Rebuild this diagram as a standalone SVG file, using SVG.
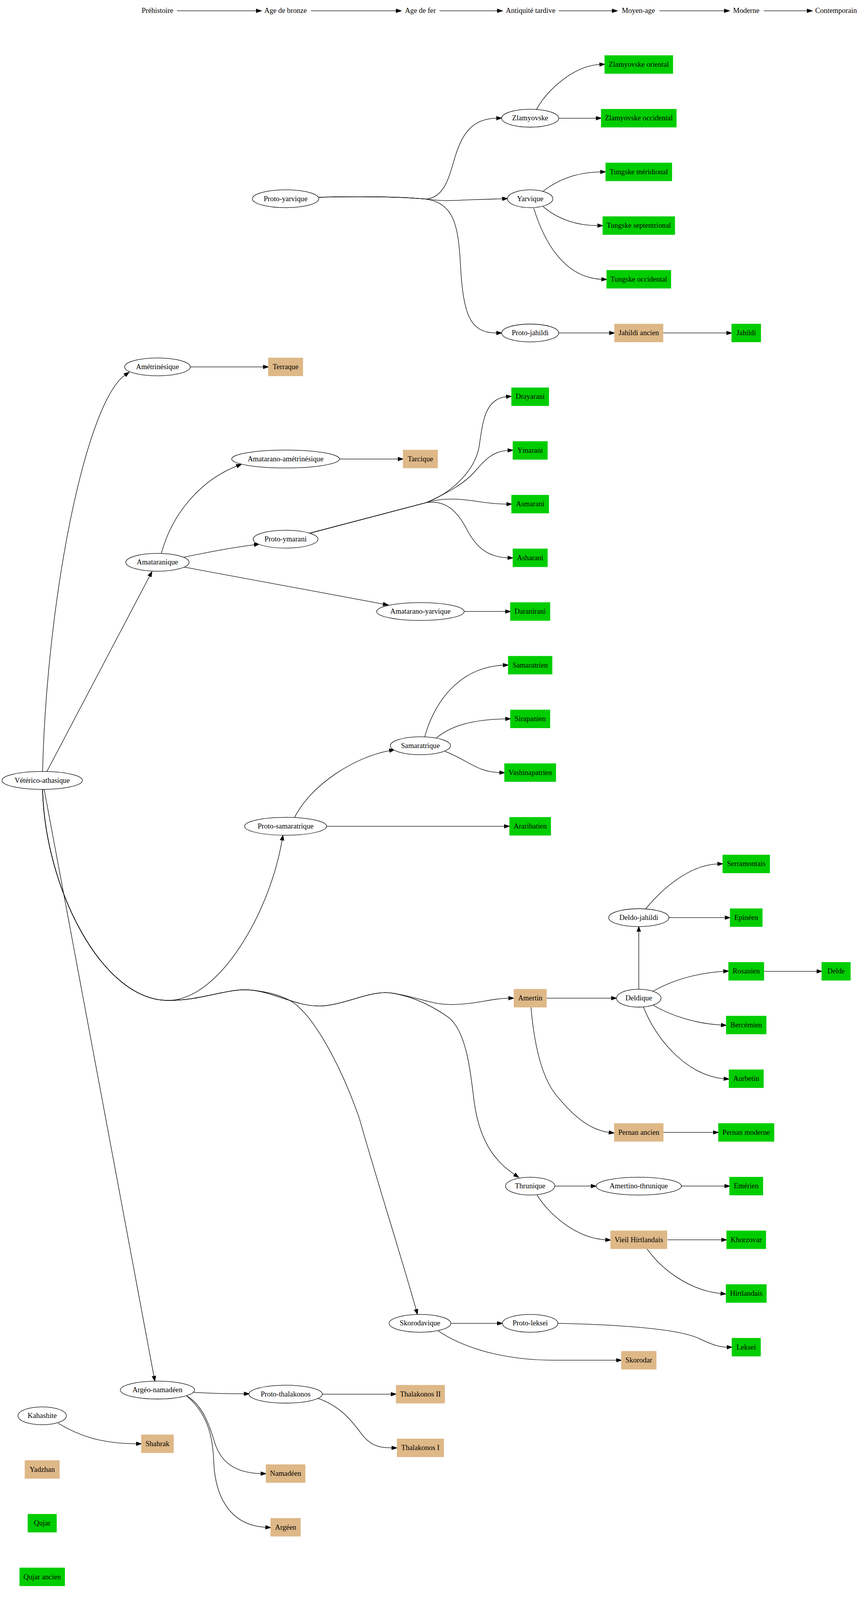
<svg xmlns="http://www.w3.org/2000/svg" width="2214" height="4291" viewBox="0 0 2214 4291" preserveAspectRatio="none">
<style>
svg{width:100vw;height:100vh}
text{font-family:"Liberation Serif","Times New Roman",serif;font-size:18.67px;text-anchor:middle;fill:#000}
.n ellipse{fill:#fff;stroke:#000;stroke-width:1.33}
.g rect{fill:#00cd00;stroke:#00cd00;stroke-width:1.33}
.t rect{fill:#deb887;stroke:#deb887;stroke-width:1.33}
#edges path{fill:none;stroke:#000;stroke-width:1.33;marker-end:url(#a)}
</style>
<defs>
<marker id="a" markerUnits="userSpaceOnUse" markerWidth="14" markerHeight="10" viewBox="0 0 14 10" refX="0" refY="5" orient="auto" overflow="visible">
<path d="M0,0.3 L13.3,5 L0,9.7 z" fill="#000" stroke="#000" stroke-width="1.33"/>
</marker>
</defs>
<rect width="2214" height="4291" fill="#fff"/>
<g id="edges">
<path d="M453,29 L656,29"/>
<path d="M796,29 L1014,29"/>
<path d="M1125,29 L1273,29"/>
<path d="M1430,29 L1567,29"/>
<path d="M1688,29 L1854,29"/>
<path d="M1955,29 L2066,29"/>
<path d="M816,529 C960,525 1050,530 1090,534 C1140,530 1150,470 1165,420 C1185,350 1215,318 1271,317"/>
<path d="M816,529 C960,525 1050,530 1090,534 C1130,540 1160,538 1200,536 L1286,533"/>
<path d="M816,529 C960,525 1050,530 1090,534 C1160,545 1172,600 1178,700 C1185,840 1200,893 1271,893"/>
<path d="M1373,294 C1400,240 1470,176 1535,173"/>
<path d="M1430,317 L1526,317"/>
<path d="M1390,513 C1430,480 1480,462 1537,461"/>
<path d="M1390,554 C1430,590 1480,605 1530,605"/>
<path d="M1366,558 C1390,640 1440,745 1540,749"/>
<path d="M1430,893 L1560,893"/>
<path d="M1697,893 L1860,893"/>
<path d="M109,2069 C120,1600 220,1080 320,1006"/>
<path d="M487,984 L674,984"/>
<path d="M120,2069 L383,1545"/>
<path d="M413,1484 C440,1380 510,1290 606,1250"/>
<path d="M869,1231 L1019,1231"/>
<path d="M472,1494 C560,1475 600,1468 651,1461"/>
<path d="M792,1430 L1091,1348 C1160,1320 1215,1260 1226,1200 C1235,1140 1238,1070 1296,1064"/>
<path d="M792,1430 L1091,1348 C1150,1320 1190,1295 1215,1265 C1240,1235 1260,1210 1300,1208"/>
<path d="M792,1430 L1091,1348 C1130,1335 1170,1337 1210,1343 C1240,1348 1270,1352 1297,1352"/>
<path d="M792,1430 L1091,1348 C1140,1340 1170,1370 1195,1420 C1220,1470 1250,1494 1300,1496"/>
<path d="M472,1521 L981,1620"/>
<path d="M1188,1640 L1294,1640"/>
<path d="M109,2117 C115,2380 260,2683 430,2683 C560,2683 690,2450 722,2253"/>
<path d="M754,2192 C800,2100 910,2030 997,2013"/>
<path d="M1087,1976 C1110,1890 1170,1790 1288,1784"/>
<path d="M1117,1979 C1150,1950 1200,1930 1294,1928"/>
<path d="M1139,2015 C1200,2040 1220,2070 1279,2072"/>
<path d="M836,2216 L1291,2216"/>
<path d="M109,2117 C115,2380 260,2683 430,2683 C520,2683 580,2650 640,2655 C700,2660 760,2700 820,2698 C880,2696 950,2655 1000,2663 C1060,2670 1100,2695 1160,2694 C1220,2693 1260,2677 1302,2677"/>
<path d="M109,2117 C115,2380 260,2683 430,2683 C520,2683 580,2650 640,2655 C690,2660 720,2670 745,2685 C800,2720 870,2850 920,3000 C960,3150 1030,3380 1065,3512"/>
<path d="M109,2117 C115,2380 260,2683 430,2683 C520,2683 580,2650 640,2655 C700,2660 760,2700 820,2698 C880,2696 950,2655 1000,2663 C1060,2672 1110,2700 1150,2730 C1195,2770 1205,2880 1213,2950 C1225,3050 1260,3110 1317,3150"/>
<path d="M113,2117 L394,3691"/>
<path d="M1399,2677 L1565,2677"/>
<path d="M1359,2701 C1368,2810 1390,2900 1430,2945 C1470,2995 1510,3030 1559,3037"/>
<path d="M1698,3037 L1826,3037"/>
<path d="M1635,2653 L1635,2498"/>
<path d="M1653,2437 C1690,2390 1760,2320 1837,2317"/>
<path d="M1712,2461 L1856,2461"/>
<path d="M1672,2658 C1720,2630 1780,2610 1852,2605"/>
<path d="M1955,2605 L2091,2605"/>
<path d="M1672,2696 C1720,2725 1780,2745 1846,2749"/>
<path d="M1647,2701 C1680,2790 1760,2885 1853,2893"/>
<path d="M1420,3181 L1513,3181"/>
<path d="M1744,3181 L1855,3181"/>
<path d="M1375,3205 C1400,3250 1470,3320 1550,3325"/>
<path d="M1708,3325 L1847,3325"/>
<path d="M1656,3349 C1690,3400 1760,3460 1845,3469"/>
<path d="M1154,3549 L1273,3549"/>
<path d="M1428,3549 C1600,3553 1740,3565 1790,3590 C1820,3605 1840,3613 1861,3613"/>
<path d="M1120,3568 C1170,3605 1270,3648 1420,3648 L1578,3648"/>
<path d="M495,3734 C540,3737 580,3738 625,3738"/>
<path d="M825,3739 L1001,3739"/>
<path d="M813,3750 C870,3770 900,3810 925,3845 C950,3880 975,3883 1003,3883"/>
<path d="M477,3743 C520,3770 535,3820 550,3870 C565,3920 600,3950 668,3952"/>
<path d="M478,3744 C530,3790 545,3850 547,3920 C550,4000 580,4090 680,4096"/>
<path d="M149,3817 C200,3850 260,3872 349,3872"/>
</g>
<g id="timeline">
<text x="403" y="35">Préhistoire</text>
<text x="731" y="35">Age de bronze</text>
<text x="1076" y="35">Age de fer</text>
<text x="1358" y="35">Antiquité tardive</text>
<text x="1634" y="35">Moyen-age</text>
<text x="1910" y="35">Moderne</text>
<text x="2140" y="35">Contemporain</text>
</g>
<g id="n-veterico" class="n"><ellipse cx="108" cy="2093" rx="103" ry="24"/><text x="108" y="2099">Vétérico-athasique</text></g>
<g id="n-kahashite" class="n"><ellipse cx="108" cy="3797" rx="62" ry="24"/><text x="108" y="3803">Kahashite</text></g>
<g id="n-yadzhan" class="t"><rect x="64" y="3917" width="88" height="48"/><text x="108" y="3947">Yadzhan</text></g>
<g id="n-qujar" class="g"><rect x="71.5" y="4061" width="73" height="48"/><text x="108" y="4091">Qujar</text></g>
<g id="n-qujar-ancien" class="g"><rect x="50.5" y="4205" width="115" height="48"/><text x="108" y="4235">Qujar ancien</text></g>
<g id="n-ametrinesique" class="n"><ellipse cx="403" cy="984" rx="84" ry="24"/><text x="403" y="990">Amétrinésique</text></g>
<g id="n-amataranique" class="n"><ellipse cx="403" cy="1508" rx="81" ry="24"/><text x="403" y="1514">Amataranique</text></g>
<g id="n-argeo-namadeen" class="n"><ellipse cx="403" cy="3728" rx="95" ry="24"/><text x="403" y="3734">Argéo-namadéen</text></g>
<g id="n-shahrak" class="t"><rect x="362" y="3848" width="82" height="48"/><text x="403" y="3878">Shahrak</text></g>
<g id="n-proto-yarvique" class="n"><ellipse cx="731" cy="533" rx="85" ry="24"/><text x="731" y="539">Proto-yarvique</text></g>
<g id="n-terraque" class="t"><rect x="687" y="960" width="88" height="48"/><text x="731" y="990">Terraque</text></g>
<g id="n-amatarano-ametrinesique" class="n"><ellipse cx="731" cy="1231" rx="138" ry="24"/><text x="731" y="1237">Amatarano-amétrinésique</text></g>
<g id="n-proto-ymarani" class="n"><ellipse cx="731" cy="1446" rx="83" ry="24"/><text x="731" y="1452">Proto-ymarani</text></g>
<g id="n-proto-samaratrique" class="n"><ellipse cx="731" cy="2216" rx="105" ry="24"/><text x="731" y="2222">Proto-samaratrique</text></g>
<g id="n-proto-thalakonos" class="n"><ellipse cx="731" cy="3739" rx="94" ry="24"/><text x="731" y="3745">Proto-thalakonos</text></g>
<g id="n-namadeen" class="t"><rect x="681" y="3928" width="100" height="48"/><text x="731" y="3958">Namadéen</text></g>
<g id="n-argeen" class="t"><rect x="693" y="4072" width="76" height="48"/><text x="731" y="4102">Argéen</text></g>
<g id="n-tarcique" class="t"><rect x="1032" y="1207" width="88" height="48"/><text x="1076" y="1237">Tarcique</text></g>
<g id="n-amatarano-yarvique" class="n"><ellipse cx="1076" cy="1640" rx="112" ry="24"/><text x="1076" y="1646">Amatarano-yarvique</text></g>
<g id="n-samaratrique" class="n"><ellipse cx="1076" cy="2000" rx="77" ry="24"/><text x="1076" y="2006">Samaratrique</text></g>
<g id="n-skorodavique" class="n"><ellipse cx="1075" cy="3549" rx="79" ry="24"/><text x="1075" y="3555">Skorodavique</text></g>
<g id="n-thalakonos-2" class="t"><rect x="1014" y="3715" width="124" height="48"/><text x="1076" y="3745">Thalakonos II</text></g>
<g id="n-thalakonos-1" class="t"><rect x="1016.5" y="3859" width="119" height="48"/><text x="1076" y="3889">Thalakonos I</text></g>
<g id="n-zlamyovske" class="n"><ellipse cx="1357" cy="317" rx="73" ry="24"/><text x="1357" y="323">Zlamyovske</text></g>
<g id="n-yarvique" class="n"><ellipse cx="1357" cy="533" rx="58" ry="24"/><text x="1357" y="539">Yarvique</text></g>
<g id="n-proto-jahildi" class="n"><ellipse cx="1357" cy="893" rx="73" ry="24"/><text x="1357" y="899">Proto-jahildi</text></g>
<g id="n-drayarani" class="g"><rect x="1309.5" y="1040" width="95" height="48"/><text x="1357" y="1070">Drayarani</text></g>
<g id="n-ymarani" class="g"><rect x="1313" y="1184" width="88" height="48"/><text x="1357" y="1214">Ymarani</text></g>
<g id="n-asmarani" class="g"><rect x="1309.5" y="1328" width="95" height="48"/><text x="1357" y="1358">Asmarani</text></g>
<g id="n-asharani" class="g"><rect x="1313" y="1472" width="88" height="48"/><text x="1357" y="1502">Asharani</text></g>
<g id="n-daranirani" class="g"><rect x="1306.5" y="1616" width="101" height="48"/><text x="1357" y="1646">Daranirani</text></g>
<g id="n-samaratrien" class="g"><rect x="1301" y="1760" width="112" height="48"/><text x="1357" y="1790">Samaratrien</text></g>
<g id="n-sirapanien" class="g"><rect x="1306.5" y="1904" width="101" height="48"/><text x="1357" y="1934">Sirapanien</text></g>
<g id="n-vashinapatrien" class="g"><rect x="1291.5" y="2048" width="131" height="48"/><text x="1357" y="2078">Vashinapatrien</text></g>
<g id="n-araribatien" class="g"><rect x="1304.5" y="2192" width="105" height="48"/><text x="1357" y="2222">Araribatien</text></g>
<g id="n-amertin" class="t"><rect x="1315.5" y="2653" width="83" height="48"/><text x="1357" y="2683">Amertin</text></g>
<g id="n-thrunique" class="n"><ellipse cx="1357" cy="3181" rx="63" ry="24"/><text x="1357" y="3187">Thrunique</text></g>
<g id="n-proto-leksei" class="n"><ellipse cx="1357" cy="3549" rx="71" ry="24"/><text x="1357" y="3555">Proto-leksei</text></g>
<g id="n-zlam-oriental" class="g"><rect x="1548" y="149" width="174" height="48"/><text x="1635" y="179">Zlamyovske oriental</text></g>
<g id="n-zlam-occidental" class="g"><rect x="1539" y="293" width="192" height="48"/><text x="1635" y="323">Zlamyovske occidental</text></g>
<g id="n-tungske-meridional" class="g"><rect x="1550.5" y="437" width="169" height="48"/><text x="1635" y="467">Tungske méridional</text></g>
<g id="n-tungske-septentrional" class="g"><rect x="1543" y="581" width="184" height="48"/><text x="1635" y="611">Tungske septentrional</text></g>
<g id="n-tungske-occidental" class="g"><rect x="1553" y="725" width="164" height="48"/><text x="1635" y="755">Tungske occidental</text></g>
<g id="n-jahildi-ancien" class="t"><rect x="1573" y="869" width="124" height="48"/><text x="1635" y="899">Jahildi ancien</text></g>
<g id="n-deldo-jahildi" class="n"><ellipse cx="1635" cy="2461" rx="77" ry="24"/><text x="1635" y="2467">Deldo-jahildi</text></g>
<g id="n-deldique" class="n"><ellipse cx="1635" cy="2677" rx="57" ry="24"/><text x="1635" y="2683">Deldique</text></g>
<g id="n-pernan-ancien" class="t"><rect x="1572.5" y="3013" width="125" height="48"/><text x="1635" y="3043">Pernan ancien</text></g>
<g id="n-amertino-thrunique" class="n"><ellipse cx="1635" cy="3181" rx="109" ry="24"/><text x="1635" y="3187">Amertino-thrunique</text></g>
<g id="n-vieil-hirtlandais" class="t"><rect x="1563" y="3301" width="144" height="48"/><text x="1635" y="3331">Vieil Hirtlandais</text></g>
<g id="n-skorodar" class="t"><rect x="1590.5" y="3624" width="89" height="48"/><text x="1635" y="3654">Skorodar</text></g>
<g id="n-jahildi" class="g"><rect x="1873" y="869" width="74" height="48"/><text x="1910" y="899">Jahildi</text></g>
<g id="n-serramontais" class="g"><rect x="1850" y="2293" width="120" height="48"/><text x="1910" y="2323">Serramontais</text></g>
<g id="n-epineen" class="g"><rect x="1869" y="2437" width="82" height="48"/><text x="1910" y="2467">Epinéen</text></g>
<g id="n-rosanien" class="g"><rect x="1865" y="2581" width="90" height="48"/><text x="1910" y="2611">Rosanien</text></g>
<g id="n-bercemien" class="g"><rect x="1859" y="2725" width="102" height="48"/><text x="1910" y="2755">Bercémien</text></g>
<g id="n-aurbetin" class="g"><rect x="1866" y="2869" width="88" height="48"/><text x="1910" y="2899">Aurbetin</text></g>
<g id="n-pernan-moderne" class="g"><rect x="1839" y="3013" width="142" height="48"/><text x="1910" y="3043">Pernan moderne</text></g>
<g id="n-emerien" class="g"><rect x="1867.5" y="3157" width="85" height="48"/><text x="1910" y="3187">Emérien</text></g>
<g id="n-khorzovar" class="g"><rect x="1860" y="3301" width="100" height="48"/><text x="1910" y="3331">Khorzovar</text></g>
<g id="n-hirtlandais" class="g"><rect x="1858.5" y="3445" width="103" height="48"/><text x="1910" y="3475">Hirtlandais</text></g>
<g id="n-leksei" class="g"><rect x="1873.5" y="3589" width="73" height="48"/><text x="1910" y="3619">Leksei</text></g>
<g id="n-delde" class="g"><rect x="2103.5" y="2581" width="73" height="48"/><text x="2140" y="2611">Delde</text></g>
</svg>
